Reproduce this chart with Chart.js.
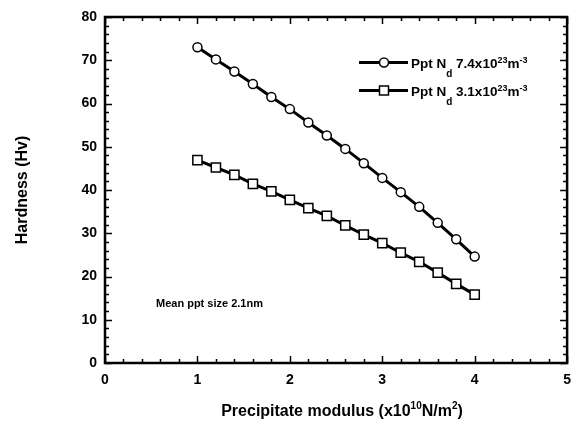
<!DOCTYPE html>
<html>
<head>
<meta charset="utf-8">
<script src="https://cdn.jsdelivr.net/npm/chart.js@4.4.1/dist/chart.umd.min.js"></script>
<style>
  html, body { margin: 0; padding: 0; background: #fff; }
  #wrap { width: 580px; height: 426px; }
</style>
</head>
<body>
<div id="wrap"><canvas id="hv"></canvas></div>
<script>
const modulus = [1.0, 1.2, 1.4, 1.6, 1.8, 2.0, 2.2, 2.4, 2.6, 2.8, 3.0, 3.2, 3.4, 3.6, 3.8, 4.0];
const hvHigh = [73.0, 70.2, 67.4, 64.5, 61.5, 58.7, 55.6, 52.6, 49.5, 46.2, 42.8, 39.5, 36.1, 32.4, 28.6, 24.6];
const hvLow = [46.9, 45.2, 43.5, 41.4, 39.7, 37.7, 35.8, 34.0, 31.8, 29.7, 27.7, 25.5, 23.4, 20.9, 18.3, 15.8];
const xTicks = [0, 1, 2, 3, 4, 5];
const yTicks = [0, 10, 20, 30, 40, 50, 60, 70, 80];

const FONT = "Liberation Sans, Arial, sans-serif";

// draw a run of text pieces, each with its own size and vertical shift
function richText(ctx, parts, x, y, align) {
  let total = 0;
  parts.forEach((p) => {
    ctx.font = `bold ${p.size}px ${FONT}`;
    p.w = ctx.measureText(p.t).width;
    total += p.w;
  });
  let cx = align === "center" ? x - total / 2 : x;
  ctx.textAlign = "left";
  ctx.textBaseline = "alphabetic";
  parts.forEach((p) => {
    ctx.font = `bold ${p.size}px ${FONT}`;
    ctx.fillText(p.t, cx, y + (p.dy || 0));
    cx += p.w;
  });
}

const decor = {
  id: "decor",
  afterDraw(chart) {
    const ctx = chart.ctx;
    const a = chart.chartArea;
    const xs = chart.scales.x, ys = chart.scales.y;
    ctx.save();
    ctx.strokeStyle = "#000";
    ctx.fillStyle = "#000";

    // inward ticks on all four sides
    ctx.lineWidth = 1.5;
    ctx.beginPath();
    for (let v = 0; v <= 5.0001; v += 0.2) {
      const px = Math.round(xs.getPixelForValue(v)) + 0.5;
      const major = Math.abs(v - Math.round(v)) < 1e-6;
      const len = major ? 7 : 4;
      ctx.moveTo(px, a.bottom); ctx.lineTo(px, a.bottom - len);
      ctx.moveTo(px, a.top); ctx.lineTo(px, a.top + len);
    }
    for (let v = 0; v <= 80.0001; v += 2) {
      const py = Math.round(ys.getPixelForValue(v)) + 0.5;
      const major = v % 10 === 0;
      const len = major ? 7 : 4;
      ctx.moveTo(a.left, py); ctx.lineTo(a.left + len, py);
      ctx.moveTo(a.right, py); ctx.lineTo(a.right - len, py);
    }
    ctx.stroke();

    // frame
    ctx.lineWidth = 2.5;
    ctx.strokeRect(a.left, a.top, a.right - a.left, a.bottom - a.top);

    // axis titles
    richText(ctx, [
      { t: "Precipitate modulus (x10", size: 16 },
      { t: "10", size: 10, dy: -7 },
      { t: "N/m", size: 16 },
      { t: "2", size: 10, dy: -7 },
      { t: ")", size: 16 },
    ], 342, 416, "center");

    ctx.save();
    ctx.translate(27, ys.getPixelForValue(40));
    ctx.rotate(-Math.PI / 2);
    richText(ctx, [{ t: "Hardness (Hv)", size: 16 }], 0, 0, "center");
    ctx.restore();

    // legend
    const rows = [
      { y: 62.5, exp: "7.4", style: "circle" },
      { y: 90.5, exp: "3.1", style: "rect" },
    ];
    rows.forEach((r) => {
      ctx.lineWidth = 3;
      ctx.beginPath();
      ctx.moveTo(359, r.y); ctx.lineTo(408, r.y);
      ctx.stroke();
      ctx.lineWidth = 1.5;
      ctx.fillStyle = "#fff";
      ctx.beginPath();
      if (r.style === "circle") ctx.arc(384, r.y, 4.5, 0, Math.PI * 2);
      else ctx.rect(379.5, r.y - 4.5, 9, 9);
      ctx.fill(); ctx.stroke();
      ctx.fillStyle = "#000";
      richText(ctx, [
        { t: "Ppt N", size: 13.5 },
        { t: "d", size: 10, dy: 9 },
        { t: " " + r.exp + "x10", size: 13.5 },
        { t: "23", size: 9, dy: -5 },
        { t: "m", size: 13.5 },
        { t: "-3", size: 9, dy: -5 },
      ], 411, r.y + 5.5);
    });

    // note
    richText(ctx, [{ t: "Mean ppt size 2.1nm", size: 11 }], 156, 307);
    ctx.restore();
  },
};

new Chart(document.getElementById("hv"), {
  type: "line",
  data: {
    datasets: [
      {
        label: "high",
        data: modulus.map((m, i) => ({ x: m, y: hvHigh[i] })),
        borderColor: "#000",
        borderWidth: 3,
        backgroundColor: "#fff",
        pointStyle: "circle",
        pointRadius: 4.5,
        pointBorderWidth: 1.5,
        pointBackgroundColor: "#fff",
        pointBorderColor: "#000",
        tension: 0,
      },
      {
        label: "low",
        data: modulus.map((m, i) => ({ x: m, y: hvLow[i] })),
        borderColor: "#000",
        borderWidth: 3,
        backgroundColor: "#fff",
        pointStyle: "rect",
        pointRadius: 6.5,
        pointBorderWidth: 1.5,
        pointBackgroundColor: "#fff",
        pointBorderColor: "#000",
        tension: 0,
      },
    ],
  },
  options: {
    responsive: true,
    maintainAspectRatio: false,
    animation: false,
    events: [],
    layout: { padding: { top: 17, right: 12, left: 0, bottom: 0 } },
    plugins: { legend: { display: false }, tooltip: { enabled: false } },
    scales: {
      x: {
        type: "linear",
        min: 0,
        max: 5,
        afterFit: (s) => { s.height = 63; },
        afterBuildTicks: (s) => { s.ticks = xTicks.map((v) => ({ value: v })); },
        grid: { display: false, drawTicks: false },
        border: { display: false },
        ticks: { color: "#000", padding: 9, font: { family: FONT, size: 14, weight: "bold" } },
      },
      y: {
        type: "linear",
        min: 0,
        max: 80,
        afterFit: (s) => { s.width = 105; },
        afterBuildTicks: (s) => { s.ticks = yTicks.map((v) => ({ value: v })); },
        grid: { display: false, drawTicks: false },
        border: { display: false },
        ticks: { color: "#000", padding: 8, font: { family: FONT, size: 14, weight: "bold" } },
      },
    },
  },
  plugins: [decor],
});
</script>
</body>
</html>
